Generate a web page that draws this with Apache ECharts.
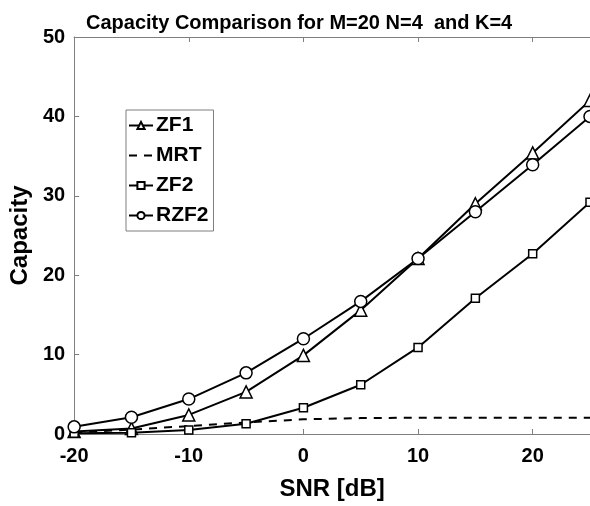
<!DOCTYPE html>
<html>
<head>
<meta charset="utf-8">
<script src="https://cdn.jsdelivr.net/npm/echarts@6/dist/echarts.min.js"></script>
<style>html,body{margin:0;padding:0;background:#fff;}#c{width:590px;height:506px;}</style>
</head>
<body>
<div id="c"></div>
<script>
const snr = [-20, -15, -10, -5, 0, 5, 10, 15, 20, 25];
const zf1 = [0.3, 0.7, 2.4, 5.3, 9.9, 15.6, 22.1, 29.0, 35.4, 42.0];
const mrt = [0.2, 0.55, 1.0, 1.45, 1.85, 2.0, 2.05, 2.05, 2.05, 2.05];
const zf2 = [0.1, 0.15, 0.5, 1.3, 3.3, 6.2, 10.9, 17.1, 22.7, 29.2];
const rzf2 = [0.9, 2.1, 4.4, 7.7, 12.0, 16.7, 22.1, 28.0, 33.9, 40.0];
const seriesNames = ['ZF1', 'MRT', 'ZF2', 'RZF2'];

const FONT = '"Liberation Sans", Arial, sans-serif';
const pair = arr => snr.map((x, i) => [x, arr[i]]);
const axisGray = '#7f7f7f';

const chart = echarts.init(document.getElementById('c'), null, {renderer: 'canvas'});
chart.setOption({
  animation: false,
  backgroundColor: '#fff',
  title: {
    text: 'Capacity Comparison for M=20 N=4  and K=4',
    left: 81, top: 8,
    textStyle: {fontFamily: FONT, fontWeight: 'bold', fontSize: 20, color: '#000'}
  },
  grid: {left: 70, top: 37, width: 523, height: 397, containLabel: false},
  legend: {
    orient: 'vertical', left: 126, top: 110,
    data: [
      {name: 'ZF1'},
      {name: 'MRT', itemStyle: {opacity: 0}},
      {name: 'ZF2'},
      {name: 'RZF2'}
    ],
    backgroundColor: '#fff',
    borderColor: '#7f7f7f', borderWidth: 1,
    padding: [5, 5, 5, 2],
    itemGap: 9, itemWidth: 24, itemHeight: 9,
    textStyle: {fontFamily: FONT, fontWeight: 'bold', fontSize: 21, color: '#000', padding: [0, 0, 0, -2]}
  },
  xAxis: [{
    type: 'value', min: -20, max: 25, interval: 10,
    name: 'SNR [dB]', nameLocation: 'middle', nameGap: 43,
    nameTextStyle: {fontFamily: FONT, fontWeight: 'bold', fontSize: 24, color: '#000'},
    axisLine: {show: true, onZero: false, lineStyle: {color: axisGray, width: 1}},
    axisTick: {show: true, inside: true, length: 5, lineStyle: {color: axisGray}},
    axisLabel: {fontFamily: FONT, fontWeight: 'bold', fontSize: 20, color: '#000', margin: 12, showMaxLabel: false},
    splitLine: {show: false}
  }, {
    type: 'value', min: -20, max: 25, interval: 10, position: 'top',
    axisLine: {show: true, onZero: false, lineStyle: {color: axisGray, width: 1}},
    axisTick: {show: true, inside: true, length: 5, lineStyle: {color: axisGray}},
    axisLabel: {show: false},
    splitLine: {show: false}
  }],
  yAxis: {
    type: 'value', min: 0, max: 50, interval: 10,
    name: 'Capacity', nameLocation: 'middle', nameGap: 37,
    nameTextStyle: {fontFamily: FONT, fontWeight: 'bold', fontSize: 24, color: '#000'},
    axisLine: {show: true, onZero: false, lineStyle: {color: axisGray, width: 1}},
    axisTick: {show: true, inside: true, length: 5, lineStyle: {color: axisGray}},
    axisLabel: {fontFamily: FONT, fontWeight: 'bold', fontSize: 20, color: '#000', margin: 9},
    splitLine: {show: false}
  },
  series: [
    {name: 'ZF1', type: 'line', data: pair(zf1), symbol: 'triangle', symbolSize: 12,
     lineStyle: {color: '#000', width: 2}, itemStyle: {color: '#fff', borderColor: '#000', borderWidth: 1.5}, z: 3},
    {name: 'MRT', type: 'line', data: pair(mrt), symbol: 'none',
     lineStyle: {color: '#000', width: 2, type: [8, 7]}, itemStyle: {color: '#000'}, z: 2},
    {name: 'ZF2', type: 'line', data: pair(zf2), symbol: 'rect', symbolSize: 8,
     lineStyle: {color: '#000', width: 2}, itemStyle: {color: '#fff', borderColor: '#000', borderWidth: 1.5}, z: 3},
    {name: 'RZF2', type: 'line', data: pair(rzf2), symbol: 'circle', symbolSize: 12,
     lineStyle: {color: '#000', width: 2}, itemStyle: {color: '#fff', borderColor: '#000', borderWidth: 1.5}, z: 3}
  ]
});
</script>
</body>
</html>
